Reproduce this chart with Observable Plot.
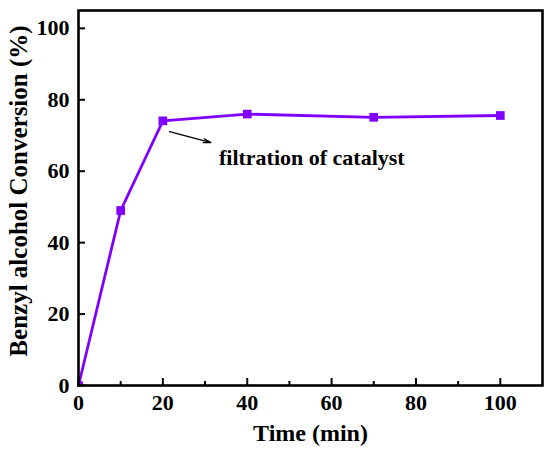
<!DOCTYPE html>
<html>
<head>
<meta charset="utf-8">
<script src="https://cdn.jsdelivr.net/npm/d3@7"></script>
<script src="https://cdn.jsdelivr.net/npm/@observablehq/plot@0.6"></script>
<style>
  html, body { margin: 0; padding: 0; background: #fff; }
  #chart svg { display: block; }
  #chart svg text { font-family: "Liberation Serif", "Times New Roman", serif !important; font-weight: bold !important; }
</style>
</head>
<body>
<div id="chart"></div>
<script>
const times = [0, 10, 20, 40, 70, 100];
const conversion = [0, 49, 74.1, 76, 75.1, 75.6];
const xTicks = [0, 20, 40, 60, 80, 100];
const xMinorTicks = [10, 30, 50, 70, 90];
const yTicks = [0, 20, 40, 60, 80, 100];
const xLabel = "Time (min)";
const yLabel = "Benzyl alcohol Conversion (%)";
const annotationText = "filtration of catalyst";
const arrowFrom = {x: 21.6, y: 71.1};
const arrowTo = {x: 31.4, y: 68.0};
const textAt = {x: 33.3, y: 63.8};

const data = times.map((t, i) => ({t, c: conversion[i]}));
const font = "Liberation Serif";
const purple = "#8000ff";

const W = 550, H = 456;
const mL = 78, mR = 8, mT = 10, mB = 71;
const pw = W - mL - mR, ph = H - mT - mB;

const chart = Plot.plot({
  width: W,
  height: H,
  marginLeft: mL,
  marginRight: mR,
  marginTop: mT,
  marginBottom: mB,
  style: {fontFamily: font, fontWeight: "bold", fontSize: "22px", color: "#000", background: "#fff"},
  x: {domain: [0, 110], label: null},
  y: {domain: [0, 105], label: null},
  marks: [
    Plot.line(data, {x: "t", y: "c", stroke: purple, strokeWidth: 2.8}),
    Plot.dot(data, {x: "t", y: "c", symbol: "square", r: 4.9, fill: purple, stroke: "none", clip: true}),
    Plot.arrow([0], {x1: () => arrowFrom.x, y1: () => arrowFrom.y, x2: () => arrowTo.x, y2: () => arrowTo.y,
      stroke: "#000", strokeWidth: 1.3, headLength: 9, headAngle: 30}),
    Plot.text([annotationText], {x: () => textAt.x, y: () => textAt.y, text: d => d, textAnchor: "start",
      fontSize: 22, fill: "#000"}),
    Plot.tickX(xTicks, {x: d => d, insetTop: ph - 7, stroke: "#000", strokeWidth: 2}),
    Plot.tickX(xMinorTicks, {x: d => d, insetTop: ph - 4, stroke: "#000", strokeWidth: 2}),
    Plot.tickY(yTicks, {y: d => d, insetRight: pw - 7, stroke: "#000", strokeWidth: 2}),
    Plot.axisX(xTicks, {tickSize: 0, tickPadding: 9, fontSize: 22, label: null}),
    Plot.axisY(yTicks, {tickSize: 0, tickPadding: 9, fontSize: 22, label: null}),
    Plot.text([xLabel], {frameAnchor: "bottom", dy: 55, text: d => d, fontSize: 24, fill: "#000"}),
    Plot.text([yLabel], {frameAnchor: "left", dx: -60, dy: -7, rotate: -90, textAnchor: "middle", text: d => d, fontSize: 25, fill: "#000"}),
    Plot.frame({stroke: "#000", strokeWidth: 2.6})
  ]
});
document.getElementById("chart").appendChild(chart);
</script>
</body>
</html>
